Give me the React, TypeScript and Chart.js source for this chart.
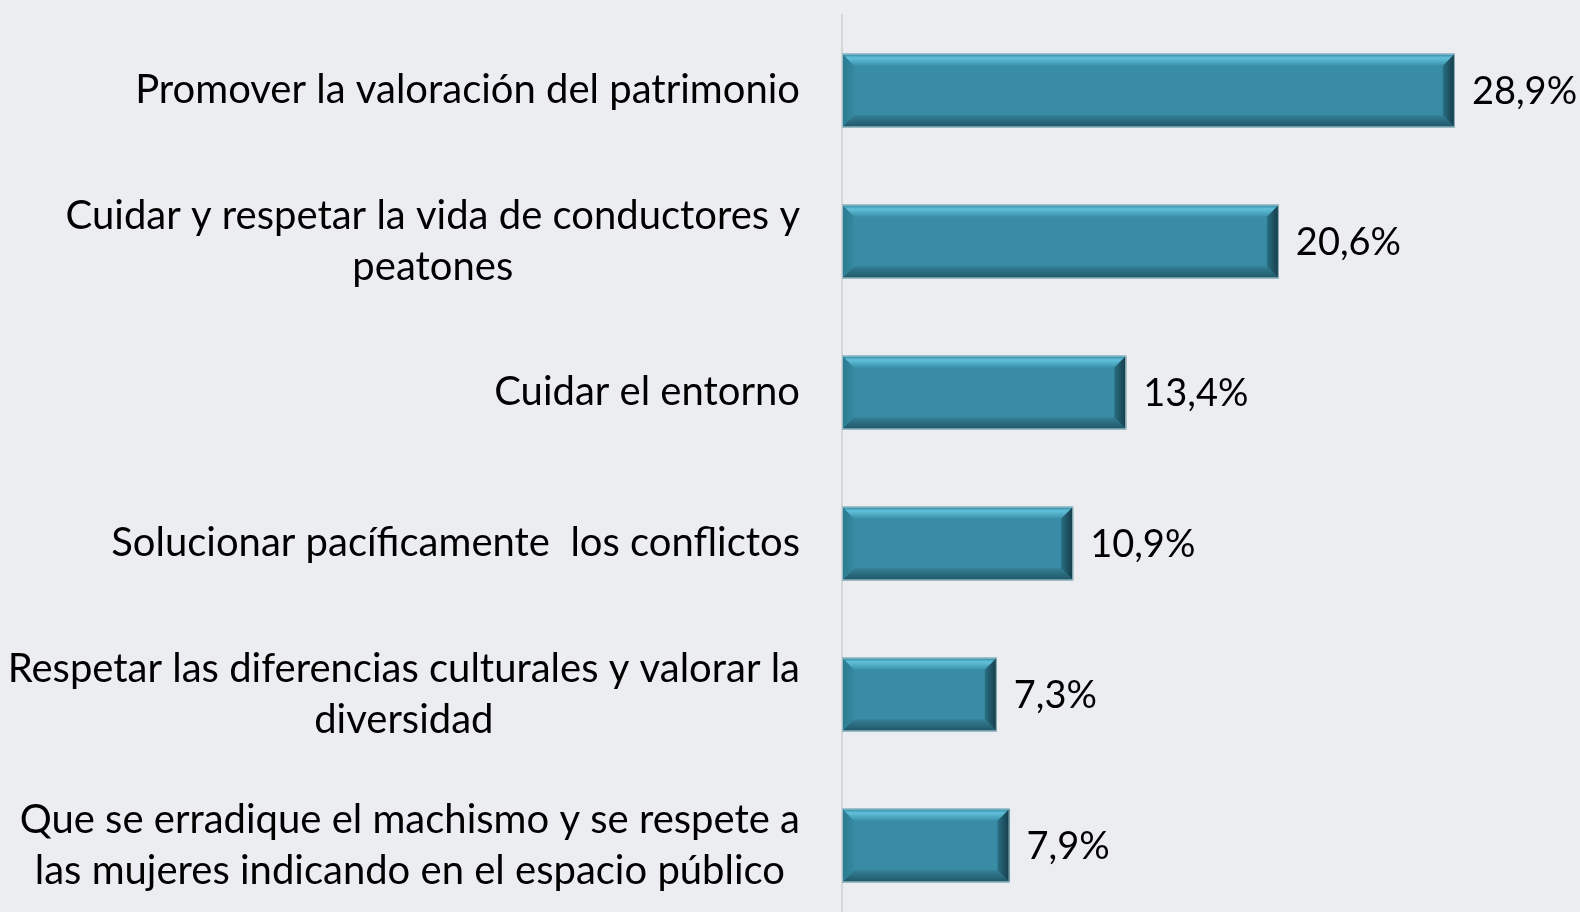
import React, { useEffect, useRef } from "react";
import { Chart, registerables } from "chart.js";

Chart.register(...registerables);

const categories: string[][] = [
  ["Promover la valoración del patrimonio"],
  ["Cuidar y respetar la vida de conductores y", "peatones"],
  ["Cuidar el entorno"],
  ["Solucionar pacíficamente  los conflictos"],
  ["Respetar las diferencias culturales y valorar la", "diversidad"],
  ["Que se erradique el machismo y se respete a", "las mujeres indicando en el espacio público"],
];
const values: number[] = [28.9, 20.6, 13.4, 10.9, 7.3, 7.9];
const valueLabels: string[] = ["28,9%", "20,6%", "13,4%", "10,9%", "7,3%", "7,9%"];

const LABEL_FONT = "40px Lato";
const VALUE_FONT = "38px Lato";
const LINE_H = 51.5;

const bevelPlugin = {
  id: "bevel",
  afterDatasetsDraw(chart: any) {
    const ctx = chart.ctx;
    const meta = chart.getDatasetMeta(0);
    meta.data.forEach((bar: any) => {
      const left = Math.min(bar.base, bar.x);
      const right = Math.max(bar.base, bar.x);
      const top = bar.y - bar.height / 2;
      const bottom = bar.y + bar.height / 2;
      const b = 12;
      ctx.save();
      let g = ctx.createLinearGradient(0, top, 0, top + b);
      g.addColorStop(0, "#2c7f97");
      g.addColorStop(0.35, "#62c0da");
      g.addColorStop(1, "#3a92aa");
      ctx.fillStyle = g;
      ctx.beginPath();
      ctx.moveTo(left, top);
      ctx.lineTo(right, top);
      ctx.lineTo(right - b, top + b);
      ctx.lineTo(left + b, top + b);
      ctx.closePath();
      ctx.fill();
      g = ctx.createLinearGradient(0, bottom - b, 0, bottom);
      g.addColorStop(0, "#347f95");
      g.addColorStop(1, "#1f5566");
      ctx.fillStyle = g;
      ctx.beginPath();
      ctx.moveTo(left, bottom);
      ctx.lineTo(right, bottom);
      ctx.lineTo(right - b, bottom - b);
      ctx.lineTo(left + b, bottom - b);
      ctx.closePath();
      ctx.fill();
      g = ctx.createLinearGradient(left, 0, left + b, 0);
      g.addColorStop(0, "#2b7a90");
      g.addColorStop(1, "#3589a1");
      ctx.fillStyle = g;
      ctx.beginPath();
      ctx.moveTo(left, top);
      ctx.lineTo(left + b, top + b);
      ctx.lineTo(left + b, bottom - b);
      ctx.lineTo(left, bottom);
      ctx.closePath();
      ctx.fill();
      g = ctx.createLinearGradient(right - b, 0, right, 0);
      g.addColorStop(0, "#2a6f84");
      g.addColorStop(1, "#143a46");
      ctx.fillStyle = g;
      ctx.beginPath();
      ctx.moveTo(right, top);
      ctx.lineTo(right - b, top + b);
      ctx.lineTo(right - b, bottom - b);
      ctx.lineTo(right, bottom);
      ctx.closePath();
      ctx.fill();
      ctx.strokeStyle = "rgba(170,200,210,0.9)";
      ctx.lineWidth = 1;
      ctx.strokeRect(left + 0.5, top + 0.5, right - left - 1, bottom - top - 1);
      ctx.restore();
    });
  },
};

const labelPlugin = {
  id: "labels",
  afterDraw(chart: any) {
    const ctx = chart.ctx;
    const yScale = chart.scales.y;
    const meta = chart.getDatasetMeta(0);
    ctx.save();
    ctx.font = LABEL_FONT;
    ctx.fillStyle = "#000000";
    ctx.textBaseline = "middle";
    const rightEdge = yScale.right - 42;
    categories.forEach((lines, i) => {
      const cy = yScale.getPixelForValue(i);
      const w = Math.max(...lines.map((l) => ctx.measureText(l).width));
      const cx = rightEdge - w / 2;
      ctx.textAlign = "center";
      lines.forEach((l, j) => {
        const y = cy + (j - (lines.length - 1) / 2) * LINE_H;
        ctx.fillText(l, cx, y);
      });
    });
    ctx.font = VALUE_FONT;
    ctx.textAlign = "left";
    meta.data.forEach((bar: any, i: number) => {
      ctx.fillText(valueLabels[i], bar.x + 17, bar.y + 1);
    });
    ctx.restore();
  },
};

export default function App() {
  const ref = useRef<HTMLCanvasElement>(null);
  useEffect(() => {
    const chart = new Chart(ref.current!, {
      type: "bar",
      data: {
        labels: categories.map((c) => c.join(" ")),
        datasets: [
          {
            data: values,
            backgroundColor: "#388ca5",
            borderWidth: 0,
            barPercentage: 0.488,
            categoryPercentage: 1,
          },
        ],
      },
      options: {
        indexAxis: "y",
        animation: false,
        responsive: false,
        maintainAspectRatio: false,
        layout: { padding: { top: 15, right: 0, bottom: 0, left: 0 } },
        plugins: { legend: { display: false }, tooltip: { enabled: false } },
        scales: {
          x: { display: false, min: 0, max: 34.8 },
          y: {
            type: "category",
            offset: true,
            grid: { display: false, drawTicks: false },
            border: { display: true, color: "#d6d7d9", width: 2 },
            ticks: { display: false },
            afterFit: (s: any) => {
              s.width = 842;
            },
          },
        },
      },
      plugins: [bevelPlugin, labelPlugin],
    });
    return () => chart.destroy();
  }, []);
  return (
    <div
      style={{
        position: "fixed",
        left: 0,
        top: 0,
        width: 1580,
        height: 912,
        overflow: "hidden",
        background: "#ecedf0",
      }}
    >
      <canvas ref={ref} width={1580} height={921} style={{ display: "block" }} />
    </div>
  );
}
